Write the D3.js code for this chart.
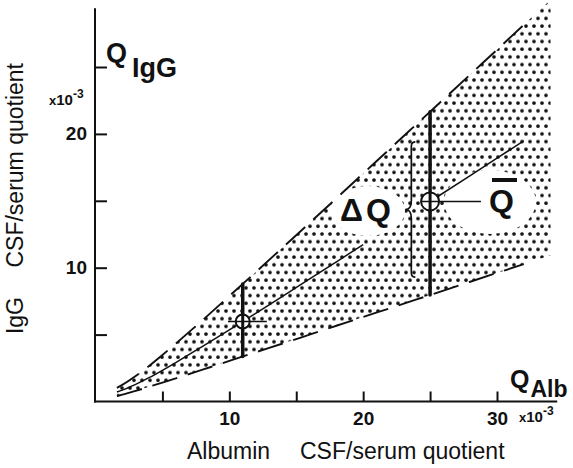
<!DOCTYPE html>
<html>
<head>
<meta charset="utf-8">
<script src="https://cdn.jsdelivr.net/npm/d3@7"></script>
<style>
  body { margin: 0; background: #fff; }
  svg { display: block; }
  text { font-family: "Liberation Sans", Arial, Helvetica, sans-serif; fill: #111; }
</style>
</head>
<body>
<svg id="chart" width="573" height="468"></svg>
<script>
// Albumin CSF/serum quotient (x10^-3) at which the reference curves are sampled
const qAlb   = [1.6, 2, 3, 4, 5, 6, 8, 10, 12, 14, 16, 18, 20, 22, 25, 28, 30, 32, 34];
// IgG CSF/serum quotient (x10^-3): upper limit, mean and lower limit of the reference range
const qUpper = [1.02, 1.24, 1.90, 2.66, 3.48, 4.33, 6.08, 7.88, 9.69, 11.52, 13.35, 15.19, 17.04, 18.89, 21.66, 24.44, 26.29, 28.15, 30.00];
const qMean  = [0.71, 0.85, 1.28, 1.78, 2.33, 2.91, 4.12, 5.35, 6.61, 7.88, 9.16, 10.44, 11.73, 13.02, 14.95, 16.89, 18.19, 19.48, 20.78];
const qLower = [0.40, 0.51, 0.79, 1.10, 1.41, 1.73, 2.38, 3.03, 3.69, 4.34, 5.00, 5.66, 6.32, 6.97, 7.96, 8.95, 9.61, 10.27, 10.93];

// Two marked albumin quotients with their mean and range of Q IgG
const markAlb  = [11, 25];
const markMean = [5.98, 14.95];
const markLow  = [3.36, 7.96];
const markHigh = [8.78, 21.66];

// Brace spanning ΔQ next to the right-hand range bar
const braceAlb = 23.6;
const braceSpan = [9.3, 19.4];

// Axis ticks
const xTicks = [5, 10, 15, 20, 25, 30];
const yTicks = [5, 10, 15, 20, 25];
const xTickLabels = [10, 20, 30];
const yTickLabels = [10, 20];

const svg = d3.select("#chart");
const x = d3.scaleLinear().domain([0, 30]).range([95.5, 497]);
const y = d3.scaleLinear().domain([0, 25]).range([401.5, 67]);

// Dot screen used for the reference band
const defs = svg.append("defs");
const pat = defs.append("pattern")
  .attr("id", "dots").attr("patternUnits", "userSpaceOnUse")
  .attr("width", 8).attr("height", 15.4);
pat.append("circle").attr("cx", 2).attr("cy", 3).attr("r", 1.85).attr("fill", "#111");
pat.append("circle").attr("cx", 6).attr("cy", 10.7).attr("r", 1.85).attr("fill", "#111");

const pts = (ys) => qAlb.map((a, i) => [a, ys[i]]);
const line = d3.line().x(d => x(d[0])).y(d => y(d[1])).curve(d3.curveMonotoneX);

// Band between lower and upper limit
const area = d3.area().x(d => x(d[0])).y0(d => y(d[2])).y1(d => y(d[1])).curve(d3.curveMonotoneX);
svg.append("path")
  .datum(qAlb.map((a, i) => [a, qUpper[i], qLower[i]]))
  .attr("d", area)
  .attr("fill", "url(#dots)");

// Clear areas behind the ΔQ and Q̄ labels
svg.append("ellipse").attr("cx", 368).attr("cy", 211).attr("rx", 37).attr("ry", 25).attr("fill", "#fff");
svg.append("ellipse").attr("cx", 490).attr("cy", 202).attr("rx", 46).attr("ry", 32).attr("fill", "#fff");

// Dashed upper and lower limits
const dashStyle = sel => sel.attr("fill", "none").attr("stroke", "#111")
  .attr("stroke-width", 1.9).attr("stroke-dasharray", "26,11");
svg.append("path").datum(pts(qUpper).filter(d => d[0] <= 33)).attr("d", line).call(dashStyle);
svg.append("path").datum(pts(qLower).filter(d => d[0] <= 32)).attr("d", line).call(dashStyle);

// Mean curve, interrupted around the ΔQ label
const meanStyle = sel => sel.attr("fill", "none").attr("stroke", "#111").attr("stroke-width", 1.5);
svg.append("path").datum(pts(qMean).filter(d => d[0] <= 20)).attr("d", line).call(meanStyle);
svg.append("path").datum(pts(qMean).filter(d => d[0] >= 25 && d[0] <= 32)).attr("d", line).call(meanStyle);

// Axes
const axisG = svg.append("g").attr("class", "axes");
axisG.append("line")
  .attr("x1", x(0) - 0.5).attr("x2", x(0) - 0.5).attr("y1", y(0) + 1).attr("y2", y(29.4))
  .attr("stroke", "#111").attr("stroke-width", 2);
axisG.append("line")
  .attr("x1", x(0) - 1.5).attr("x2", x(34.5)).attr("y1", y(0)).attr("y2", y(0))
  .attr("stroke", "#111").attr("stroke-width", 2);

const xAxis = d3.axisBottom(x).tickValues(xTicks).tickSizeInner(-10).tickSizeOuter(0).tickPadding(10)
  .tickFormat(d => xTickLabels.includes(d) ? d : "");
const gx = axisG.append("g").attr("transform", `translate(0,${y(0)})`).call(xAxis);
const yAxis = d3.axisLeft(y).tickValues(yTicks).tickSizeInner(-12).tickSizeOuter(0).tickPadding(8)
  .tickFormat(d => yTickLabels.includes(d) ? d : "");
const gy = axisG.append("g").attr("transform", `translate(${x(0) - 0.5},0)`).call(yAxis);
[gx, gy].forEach(g => {
  g.select(".domain").remove();
  g.selectAll(".tick line").attr("stroke", "#111").attr("stroke-width", 2);
  g.selectAll(".tick text").attr("fill", "#111").style("font-size", "19px").style("font-weight", "bold")
    .style("font-family", "'Liberation Sans', Arial, sans-serif");
});

// Range bars, mean circles and cross lines
svg.selectAll(".rangebar").data(markAlb).join("line").attr("class", "rangebar")
  .attr("x1", d => x(d)).attr("x2", d => x(d))
  .attr("y1", (d, i) => y(markLow[i])).attr("y2", (d, i) => y(markHigh[i]))
  .attr("stroke", "#111").attr("stroke-width", 3.5).attr("stroke-linecap", "round");
const radii = [7, 9];
svg.selectAll(".meanmark").data(markAlb).join("circle").attr("class", "meanmark")
  .attr("cx", d => x(d)).attr("cy", (d, i) => y(markMean[i])).attr("r", (d, i) => radii[i])
  .attr("fill", "#fff").attr("stroke", "#111").attr("stroke-width", 2);
svg.selectAll(".rangebar2").data(markAlb).join("line").attr("class", "rangebar2")
  .attr("x1", d => x(d)).attr("x2", d => x(d))
  .attr("y1", (d, i) => y(markMean[i]) - radii[i]).attr("y2", (d, i) => y(markMean[i]) + radii[i])
  .attr("stroke", "#111").attr("stroke-width", 3);
// horizontal cross lines (albumin extent of each marker)
const crossFrom = [9.9, 24.35];
const crossTo = [12.8, 28.8];
svg.selectAll(".crossline").data(markAlb).join("line").attr("class", "crossline")
  .attr("x1", (d, i) => x(crossFrom[i])).attr("x2", (d, i) => x(crossTo[i]))
  .attr("y1", (d, i) => y(markMean[i])).attr("y2", (d, i) => y(markMean[i]))
  .attr("stroke", "#111").attr("stroke-width", 1.6);

// Brace "{" for ΔQ
{
  const bx = x(braceAlb), top = y(braceSpan[1]), bot = y(braceSpan[0]);
  const mid = (top + bot) / 2;
  const p = d3.path();
  p.moveTo(bx + 4, top);
  p.bezierCurveTo(bx - 1, top, bx, top + 4, bx, top + 12);
  p.lineTo(bx, mid - 9);
  p.bezierCurveTo(bx, mid - 3, bx - 2, mid, bx - 6, mid);
  p.bezierCurveTo(bx - 2, mid, bx, mid + 3, bx, mid + 9);
  p.lineTo(bx, bot - 12);
  p.bezierCurveTo(bx, bot - 4, bx - 1, bot, bx + 4, bot);
  svg.append("path").attr("d", p.toString()).attr("fill", "none").attr("stroke", "#111").attr("stroke-width", 1.7);
}

// Labels inside the plot
svg.append("text").attr("x", 340).attr("y", 221).style("font-size", "32px").style("font-weight", "bold")
  .text("Δ").append("tspan").attr("x", 366).text("Q");
svg.append("text").attr("x", 489).attr("y", 212).style("font-size", "32px").style("font-weight", "bold").text("Q");
svg.append("line").attr("x1", 492).attr("x2", 517).attr("y1", 180).attr("y2", 180)
  .attr("stroke", "#111").attr("stroke-width", 4);

// Axis titles
const qIgG = svg.append("text").attr("x", 106).attr("y", 62).style("font-size", "27px").style("font-weight", "bold");
qIgG.append("tspan").text("Q");
qIgG.append("tspan").attr("dx", 5).attr("dy", 15).text("IgG");

const qAlbT = svg.append("text").attr("x", 510).attr("y", 388).style("font-size", "25px").style("font-weight", "bold");
qAlbT.append("tspan").text("Q");
qAlbT.append("tspan").attr("dx", 1).attr("dy", 9).style("font-size", "23px").text("Alb");

const exp = (xx, yy) => {
  const t = svg.append("text").attr("x", xx).attr("y", yy).style("font-size", "15px").style("font-weight", "bold");
  t.append("tspan").style("font-size", "13px").text("x");
  t.append("tspan").text("10");
  t.append("tspan").attr("dy", -7).style("font-size", "12px").text("-3");
};
exp(49, 105);
exp(519, 422);

svg.append("text").attr("x", 187).attr("y", 459).style("font-size", "23px").text("Albumin");
svg.append("text").attr("x", 300).attr("y", 459).style("font-size", "23px").text("CSF/serum quotient");

svg.append("text").attr("transform", "translate(23,63) rotate(-90)").attr("text-anchor", "end")
  .style("font-size", "23px").text("CSF/serum quotient");
svg.append("text").attr("transform", "translate(23,297) rotate(-90)").attr("text-anchor", "end")
  .style("font-size", "23px").text("IgG");
</script>
</body>
</html>
